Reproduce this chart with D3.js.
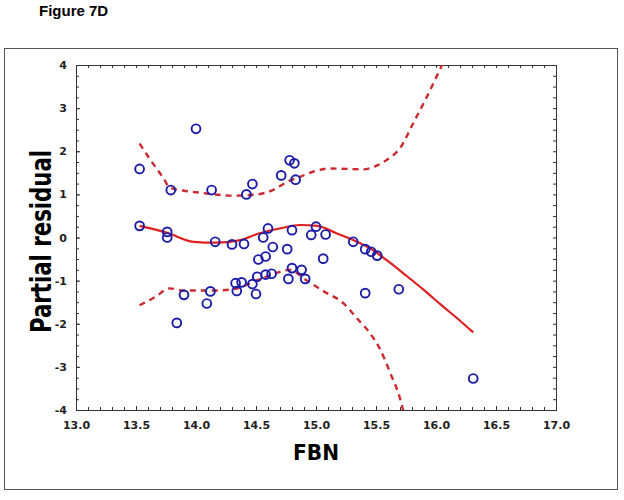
<!DOCTYPE html>
<html>
<head>
<meta charset="utf-8">
<script src="https://cdn.jsdelivr.net/npm/d3@7"></script>
<style>
  html, body { margin: 0; padding: 0; background: #fff; }
  svg { display: block; }
</style>
</head>
<body>
<svg id="chart" width="624" height="500"></svg>
<script>
// ---- data ----
const pointX = [13.53, 13.53, 13.76, 13.76, 13.79, 13.84, 13.90, 14.00, 14.09, 14.12,
                14.13, 14.16, 14.30, 14.33, 14.34, 14.38, 14.40, 14.42, 14.47, 14.47,
                14.50, 14.51, 14.52, 14.56, 14.58, 14.58, 14.60, 14.63, 14.64, 14.71,
                14.76, 14.77, 14.78, 14.80, 14.80, 14.82, 14.83, 14.88, 14.91, 14.96,
                15.00, 15.06, 15.08, 15.31, 15.41, 15.41, 15.46, 15.51, 15.69, 16.31];
const pointY = [1.59, 0.27, 0.13, 0.00, 1.10, -1.98, -1.33, 2.52, -1.53, -1.25,
                1.10, -0.10, -0.16, -1.06, -1.24, -1.04, -0.15, 1.00, 1.24, -1.08,
                -1.31, -0.91, -0.51, 0.00, -0.44, -0.86, 0.21, -0.84, -0.22, 1.44,
                -0.27, -0.96, 1.79, -0.71, 0.17, 1.72, 1.34, -0.75, -0.96, 0.06,
                0.25, -0.49, 0.07, -0.10, -0.27, -1.29, -0.33, -0.42, -1.20, -3.27];

const fitX = [13.53, 13.76, 13.98, 14.17, 14.37, 14.53, 14.70, 14.87, 15.01, 15.17,
              15.31, 15.45, 15.60, 15.75, 15.90, 16.05, 16.20, 16.31];
const fitY = [0.27, 0.11, -0.10, -0.12, -0.06, 0.10, 0.21, 0.29, 0.27, 0.10,
              -0.06, -0.25, -0.55, -0.88, -1.22, -1.58, -1.93, -2.20];

const upperX = [13.53, 13.62, 13.73, 13.78, 13.89, 14.03, 14.31, 14.51, 14.64, 14.76,
                14.87, 14.98, 15.12, 15.39, 15.50, 15.60, 15.70, 15.81, 15.92, 16.03, 16.06];
const upperY = [2.18, 1.80, 1.37, 1.16, 1.09, 1.04, 0.97, 1.00, 1.10, 1.29,
                1.41, 1.53, 1.60, 1.58, 1.66, 1.82, 2.07, 2.65, 3.24, 3.88, 4.05];

const lowerX = [13.53, 13.66, 13.78, 13.89, 14.14, 14.31, 14.51, 14.67, 14.78, 14.92,
                15.06, 15.23, 15.34, 15.45, 15.53, 15.62, 15.70, 15.73];
const lowerY = [-1.57, -1.38, -1.18, -1.23, -1.23, -1.20, -0.99, -0.82, -0.75, -0.99,
                -1.24, -1.53, -1.87, -2.22, -2.57, -3.15, -3.73, -4.05];

const xTickLabels = ["13.0", "13.5", "14.0", "14.5", "15.0", "15.5", "16.0", "16.5", "17.0"];
const yTickLabels = ["-4", "-3", "-2", "-1", "0", "1", "2", "3", "4"];

const titleText = "Figure 7D";
const xTitle = "FBN";
const yTitle = "Partial residual";

// ---- layout ----
const svg = d3.select("#chart");
const L = 76, R = 556, T = 65, B = 410;

const x = d3.scaleLinear().domain([13, 17]).range([L, R]);
const y = d3.scaleLinear().domain([-4, 4]).range([B, T]);

// title
svg.append("text")
  .attr("x", 39).attr("y", 16)
  .attr("font-family", "'Liberation Sans', Arial, sans-serif")
  .attr("font-weight", "bold").attr("font-size", 15)
  .attr("fill", "#000")
  .text(titleText);

// outer frame
svg.append("rect")
  .attr("x", 4.5).attr("y", 48.5).attr("width", 613).attr("height", 441)
  .attr("fill", "none").attr("stroke", "#555").attr("stroke-width", 1);

// clip
svg.append("clipPath").attr("id", "plotclip")
  .append("rect").attr("x", L).attr("y", T).attr("width", R - L).attr("height", B - T);

// minor ticks
const xMinor = d3.range(130, 171).map(d => d / 10);
const yMinor = d3.range(-16, 17).map(d => d / 4);
const xMajor = xTickLabels.map(Number);
const yMajor = yTickLabels.map(Number);

const tickFont = "'DejaVu Sans', Verdana, sans-serif";

function styleAxis(g) {
  g.select(".domain").remove();
  g.selectAll("line").attr("stroke", "#333").attr("stroke-width", 1);
  g.selectAll("text").attr("font-family", tickFont).attr("font-weight", "bold")
    .attr("font-size", 11).attr("fill", "#222");
}

// bottom
svg.append("g").attr("transform", `translate(0,${B})`)
  .call(d3.axisBottom(x).tickValues(xMinor).tickSize(-3).tickFormat(""))
  .call(styleAxis);
svg.append("g").attr("transform", `translate(0,${B})`)
  .call(d3.axisBottom(x).tickValues(xMajor).tickSize(-4).tickPadding(11)
        .tickFormat((d, i) => xTickLabels[i]))
  .call(styleAxis);
// top
svg.append("g").attr("transform", `translate(0,${T})`)
  .call(d3.axisTop(x).tickValues(xMinor).tickSize(-3).tickFormat(""))
  .call(styleAxis);
// left
svg.append("g").attr("transform", `translate(${L},0)`)
  .call(d3.axisLeft(y).tickValues(yMinor).tickSize(-3).tickFormat(""))
  .call(styleAxis);
svg.append("g").attr("transform", `translate(${L},0)`)
  .call(d3.axisLeft(y).tickValues(yMajor).tickSize(-4).tickPadding(9)
        .tickFormat((d, i) => yTickLabels[i]))
  .call(styleAxis);
// right
svg.append("g").attr("transform", `translate(${R},0)`)
  .call(d3.axisRight(y).tickValues(yMinor).tickSize(-3).tickFormat(""))
  .call(styleAxis);

// plot box
svg.append("rect")
  .attr("x", L + 0.5).attr("y", T + 0.5).attr("width", R - L).attr("height", B - T)
  .attr("fill", "none").attr("stroke", "#333").attr("stroke-width", 1);

// curves
const line = d3.line().x(d => x(d[0])).y(d => y(d[1])).curve(d3.curveMonotoneX);
const plot = svg.append("g").attr("clip-path", "url(#plotclip)");

plot.append("path")
  .attr("d", line(d3.zip(upperX, upperY)))
  .attr("fill", "none").attr("stroke", "#cc2a30").attr("stroke-width", 2.4)
  .attr("stroke-dasharray", "6,5");
plot.append("path")
  .attr("d", line(d3.zip(lowerX, lowerY)))
  .attr("fill", "none").attr("stroke", "#cc2a30").attr("stroke-width", 2.4)
  .attr("stroke-dasharray", "6,5");
plot.append("path")
  .attr("d", line(d3.zip(fitX, fitY)))
  .attr("fill", "none").attr("stroke", "#dd1f1f").attr("stroke-width", 2.2);

// points
plot.selectAll("circle.pt")
  .data(d3.zip(pointX, pointY))
  .join("circle")
  .attr("class", "pt")
  .attr("cx", d => x(d[0])).attr("cy", d => y(d[1]))
  .attr("r", 4.4)
  .attr("fill", "none").attr("stroke", "#1c1ca8").attr("stroke-width", 1.9);

// axis titles
svg.append("text")
  .attr("x", 316).attr("y", 459.5)
  .attr("text-anchor", "middle")
  .attr("font-family", tickFont).attr("font-weight", "bold").attr("font-size", 22)
  .attr("textLength", 46).attr("lengthAdjust", "spacingAndGlyphs")
  .attr("fill", "#000")
  .text(xTitle);

svg.append("text")
  .attr("transform", "translate(51,241.5) rotate(-90)")
  .attr("text-anchor", "middle")
  .attr("font-family", tickFont).attr("font-weight", "bold").attr("font-size", 28)
  .attr("textLength", 183).attr("lengthAdjust", "spacingAndGlyphs")
  .attr("fill", "#000")
  .text(yTitle);
</script>
</body>
</html>
